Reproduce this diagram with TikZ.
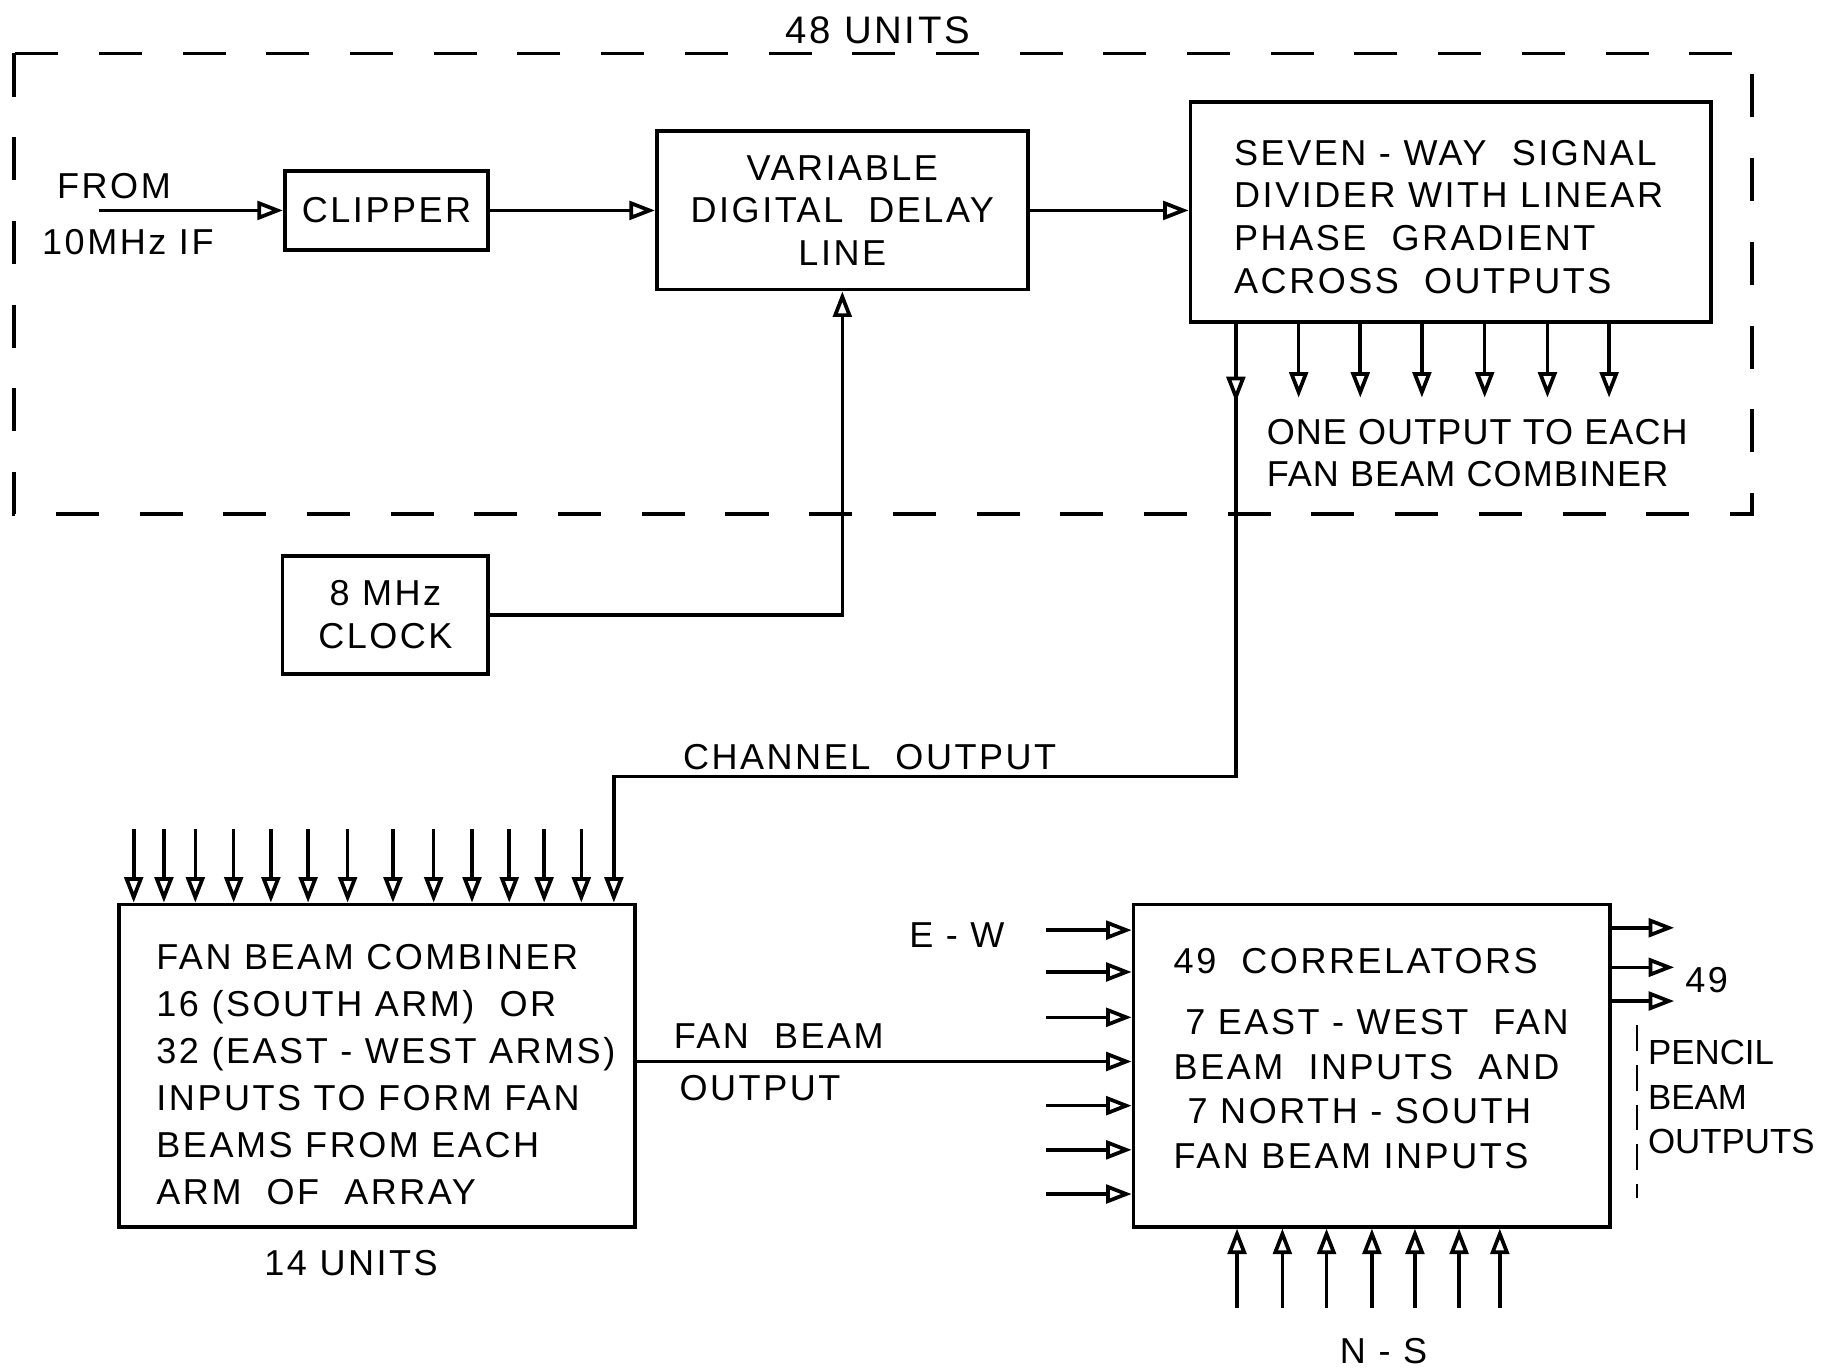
\documentclass[tikz,border=0pt]{standalone}
\usepackage{fontspec}
\setmainfont[LetterSpace=7]{Liberation Sans}
\usetikzlibrary{arrows.meta}
\begin{document}
\begin{tikzpicture}[x=1pt,y=-1pt, line width=3.1pt,
  every node/.style={font=\fontsize{31}{37}\selectfont, inner sep=0pt},
  blk/.style={draw, line width=3.3pt},
  txt/.style={anchor=north west, align=left},
  tri/.style={-{Triangle[open,length=22pt,width=16pt,line width=3.2pt]}},
  unitbox/.style={line width=3.1pt, dash pattern=on 37pt off 35pt},
]
\useasboundingbox (0,0) rectangle (1568,1178);

% dashed unit box
\draw[unitbox] (12,46) rectangle (1507,442);
\node[font=\fontsize{33}{38}\selectfont] (units48) at (755,26) {48 UNITS};

% input
\node (from) at (98,160) {FROM};
\node (if) at (110,208) {10MHz IF};
\coordinate (fromstart) at (85,181);

% blocks
\node[blk, minimum width=175pt, minimum height=68pt] (clipper) at (332.5,181) {CLIPPER};
\node[blk, minimum width=319pt, minimum height=136pt, align=center, font=\fontsize{31}{36.5}\selectfont] (vddl) at (724.5,181) {VARIABLE\\DIGITAL\ \ DELAY\\LINE};
\node[blk, minimum width=448pt, minimum height=189pt] (seven) at (1248,182.5) {};
\node[txt, font=\fontsize{31}{36.7}\selectfont] (seventxt) at (1060,119)
  {SEVEN - WAY\ \ SIGNAL\\DIVIDER WITH LINEAR\\PHASE\ \ GRADIENT\\ACROSS\ \ OUTPUTS};
\node[blk, minimum width=177pt, minimum height=102pt, align=center, font=\fontsize{31}{37}\selectfont] (clock) at (331.5,529) {8 MHz\\CLOCK};
\node[blk, minimum width=444pt, minimum height=277pt] (fbc) at (324,916.5) {};
\node[txt, font=\fontsize{31}{40.4}\selectfont] (fbctxt) at (133,811)
  {FAN BEAM COMBINER\\16 (SOUTH ARM)\ \ OR\\32 (EAST - WEST ARMS)\\INPUTS TO FORM FAN\\BEAMS FROM EACH\\ARM\ \ OF\ \ ARRAY};
\node[blk, minimum width=410pt, minimum height=277pt] (corr) at (1180,916.5) {};
\node[txt, font=\fontsize{31}{38.5}\selectfont] (corrtxt) at (1008,814)
  {49\ \ CORRELATORS\\[14pt]\hspace*{10pt}7 EAST - WEST\ \ FAN\\BEAM\ \ INPUTS\ \ AND\\\hspace*{12pt}7 NORTH - SOUTH\\FAN BEAM INPUTS};

% connectors top row
\draw[tri] (fromstart) -- (clipper.west);
\draw[tri] (clipper.east) -- (vddl.west);
\draw[tri] (vddl.east) -- (vddl.east -| seven.west);
\draw[tri] (clock.east) -| (vddl.south);

% seven-way outputs
\foreach \x in {1117,1170,1223,1277,1331,1384}
  \draw[tri] (seven.south -| \x,0) -- (\x,342);
\draw[tri] (seven.south -| 1063,0) -- (1063,346);
\draw[tri] (1063,340) |- (528,668) -- (fbc.north -| 528,0);
\node[txt, font=\fontsize{31}{36}\selectfont\addfontfeature{LetterSpace=3}] (oneout) at (1088,359) {ONE OUTPUT TO EACH\\FAN BEAM COMBINER};
\node (chan) at (748,651) {CHANNEL\ \ OUTPUT};

% fan beam combiner inputs
\foreach \x in {115,141,168,201,233,265,299,338,373,406,438,468,500}
  \draw[tri] (\x,713) -- (fbc.north -| \x,0);
\node (u14) at (302,1086) {14 UNITS};

% fan beam output
\draw[tri] (fbc.east |- 0,913) -- (corr.west |- 0,913);
\node[anchor=west] (fbl1) at (578,891) {FAN\ \ BEAM};
\node[anchor=west] (fbl2) at (583,936) {OUTPUT};

% correlator inputs
\foreach \y in {800,836,875,951,989,1027}
  \draw[tri] (900,\y) -- (corr.west |- 0,\y);
\node (ew) at (823,804) {E - W};
\foreach \x in {1064,1103,1141,1180,1217,1255,1290}
  \draw[tri] (\x,1125) -- (corr.south -| \x,0);
\node (ns) at (1190,1162) {N - S};

% correlator outputs
\foreach \y in {798,832,861}
  \draw[tri] (corr.east |- 0,\y) -- (1440,\y);
\node (n49) at (1468,843) {49};
\draw[line width=2.4pt, dash pattern=on 22pt off 12pt] (1408,882) -- (1408,1030);
\node[txt, font=\fontsize{30}{38.5}\selectfont\addfontfeature{LetterSpace=0}] (pencil) at (1416,893) {PENCIL\\BEAM\\OUTPUTS};
\end{tikzpicture}
\end{document}
